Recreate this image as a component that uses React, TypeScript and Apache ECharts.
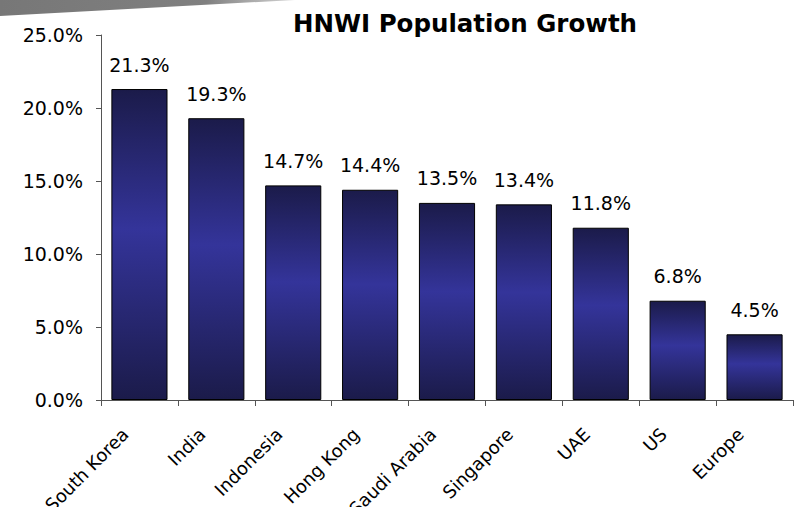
import React, { useEffect, useRef } from "react";
import * as echarts from "echarts";

const categories = ["South Korea", "India", "Indonesia", "Hong Kong", "Saudi Arabia", "Singapore", "UAE", "US", "Europe"];
const growth = [21.3, 19.3, 14.7, 14.4, 13.5, 13.4, 11.8, 6.8, 4.5];
const yTicks = { min: 0, max: 25, interval: 5 };
const titleText = "HNWI Population Growth";

const FONT = "DejaVu Sans";

export default function App() {
  const ref = useRef<HTMLDivElement>(null);
  useEffect(() => {
    if (!ref.current) return;
    const chart = echarts.init(ref.current, null, { renderer: "svg" });
    const barGradient = new echarts.graphic.LinearGradient(0, 0, 0, 1, [
      { offset: 0, color: "#1b1b4a" },
      { offset: 0.45, color: "#34349a" },
      { offset: 1, color: "#1b1b4a" },
    ]);
    chart.setOption({
      animation: false,
      backgroundColor: "#ffffff",
      title: {
        text: titleText,
        left: 465,
        top: 11,
        padding: 0,
        textAlign: "center",
        textStyle: { fontFamily: FONT, fontWeight: "bold", fontSize: 24.5, color: "#000" },
      },
      graphic: [
        {
          type: "polygon",
          shape: { points: [[0, 0], [295, 0], [0, 16]] },
          style: {
            fill: new echarts.graphic.LinearGradient(0, 0, 1, 0, [
              { offset: 0, color: "#777777" },
              { offset: 0.7, color: "#808080" },
              { offset: 1, color: "#d4d4d4" },
            ]),
          },
          silent: true,
        },
      ],
      grid: { left: 101, right: 1, top: 35, bottom: 107, containLabel: false, outerBoundsMode: "none" },
      xAxis: {
        type: "category",
        data: categories,
        axisLine: { lineStyle: { color: "#555", width: 1 } },
        axisTick: { show: true, alignWithLabel: false, length: 6, lineStyle: { color: "#555" } },
        axisLabel: {
          interval: 0,
          rotate: 45,
          margin: 17,
          padding: [0, 20, 0, 0],
          fontFamily: FONT,
          fontSize: 18,
          color: "#000",
          hideOverlap: false,
        },
      },
      yAxis: {
        type: "value",
        min: yTicks.min,
        max: yTicks.max,
        interval: yTicks.interval,
        splitLine: { show: false },
        axisLine: { show: true, lineStyle: { color: "#555", width: 1 } },
        axisTick: { show: true, length: 5, lineStyle: { color: "#555" } },
        axisLabel: {
          margin: 18,
          fontFamily: FONT,
          fontSize: 19,
          color: "#000",
          formatter: (v: number) => v.toFixed(1) + "%",
        },
      },
      series: [
        {
          type: "bar",
          data: growth,
          barCategoryGap: "27%",
          itemStyle: { color: barGradient, borderColor: "#000", borderWidth: 1 },
          label: {
            show: true,
            position: "top",
            distance: 15,
            fontFamily: FONT,
            fontSize: 19,
            color: "#000",
            formatter: (p: any) => Number(p.value).toFixed(1) + "%",
          },
        },
      ],
    });
    return () => chart.dispose();
  }, []);
  return (
    <div
      ref={ref}
      style={{ position: "fixed", left: 0, top: 0, width: 794, height: 507, background: "#fff" }}
    />
  );
}
